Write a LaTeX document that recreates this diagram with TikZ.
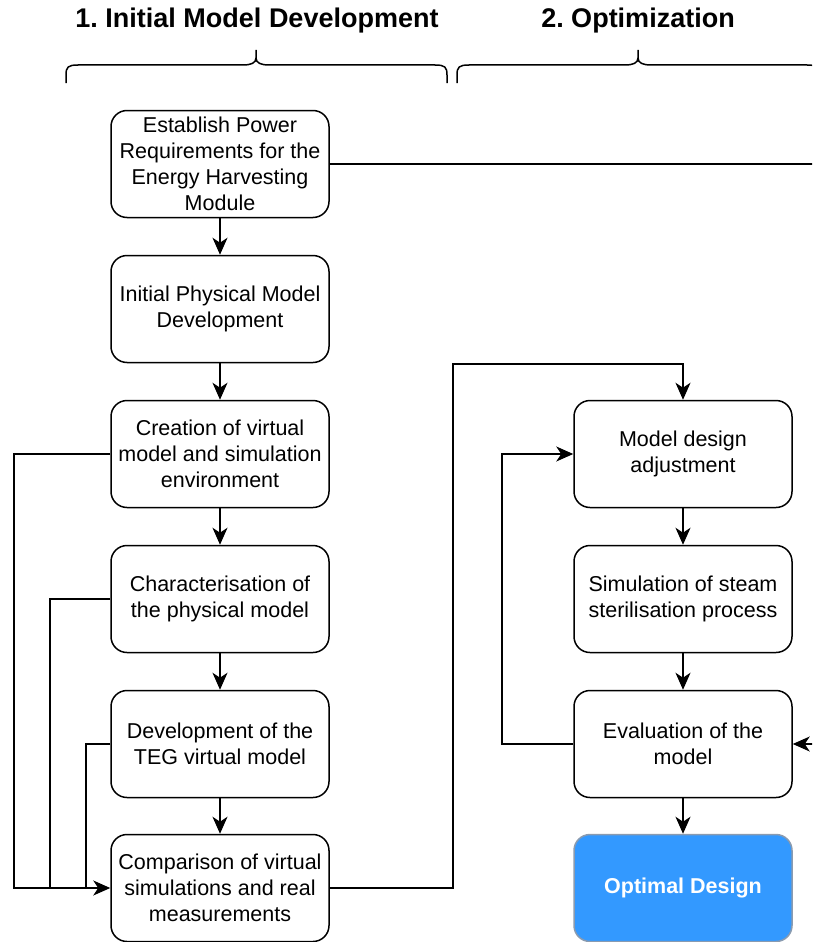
\documentclass[tikz,border=0pt]{standalone}
\usepackage{fontspec}
\setmainfont{Liberation Sans}
\usetikzlibrary{arrows.meta}
\frenchspacing
\definecolor{optblue}{HTML}{3399FF}
\definecolor{optedge}{HTML}{8A9BB0}
\tikzset{
  stepbox/.style={draw=black, line width=1.5pt, rounded corners=16pt,
    minimum width=218pt, minimum height=107pt, align=center,
    inner sep=2pt, font=\fontsize{21.5}{26}\selectfont},
  goalbox/.style={stepbox, draw=optedge, fill=optblue, text=white,
    font=\fontsize{21.5}{26}\selectfont\bfseries},
  flow/.style={line width=1.5pt, -{Stealth[length=17pt,width=15pt,inset=5pt]}},
  link/.style={line width=1.5pt},
  heading/.style={font=\fontsize{27}{32}\selectfont\bfseries},
  bracepath/.style={line width=1.5pt, line cap=butt}
}
% curly brace from x=#1 to x=#3 with its tip at x=#2
\newcommand{\phasebrace}[3]{%
  \draw[bracepath] (#1,83) -- (#1,75) .. controls (#1,67) and (#1+2,65) .. (#1+12,65)
    -- (#2-13,65) .. controls (#2-5,65) and (#2,63) .. (#2,58) -- (#2,50);
  \draw[bracepath] (#2,58) .. controls (#2,63) and (#2+5,65) .. (#2+13,65)
    -- (#3-12,65) .. controls (#3-2,65) and (#3,67) .. (#3,75) -- (#3,83);
}
\begin{document}
\begin{tikzpicture}[x=1pt, y=-1pt]
  \useasboundingbox (0,0) rectangle (812,942);
  \clip (0,0) rectangle (812,942);

  % phase headings and braces
  \node[heading] (h1) at (257,21) {1. Initial Model Development};
  \node[heading] (h2) at (638,21) {2. Optimization};
  \phasebrace{66}{256}{447}
  \phasebrace{457}{638}{819}

  % phase 1 column
  \node[stepbox] (req)  at (220,164) {Establish Power\\Requirements for the\\Energy Harvesting\\Module};
  \node[stepbox] (phys) at (220,309) {Initial Physical Model\\Development};
  \node[stepbox] (virt) at (220,454) {Creation of virtual\\model and simulation\\environment};
  \node[stepbox] (char) at (220,599) {Characterisation of\\the physical model};
  \node[stepbox] (teg)  at (220,744) {Development of the\\TEG virtual model};
  \node[stepbox] (comp) at (220,888) {Comparison of virtual\\simulations and real\\measurements};

  % phase 2 column
  \node[stepbox] (adj)  at (683,454) {Model design\\adjustment};
  \node[stepbox] (sim)  at (683,599) {Simulation of steam\\sterilisation process};
  \node[stepbox] (eval) at (683,744) {Evaluation of the\\model};
  \node[goalbox] (opt)  at (683,888) {Optimal Design};

  % straight steps
  \draw[flow] (req) -- (phys);
  \draw[flow] (phys) -- (virt);
  \draw[flow] (virt) -- (char);
  \draw[flow] (char) -- (teg);
  \draw[flow] (teg) -- (comp);
  \draw[flow] (adj) -- (sim);
  \draw[flow] (sim) -- (eval);
  \draw[flow] (eval) -- (opt);

  % feedback lines into the comparison step
  \draw[link] (virt.west) -| (14,888) -- (50,888);
  \draw[link] (char.west) -| (50,888) -- (86,888);
  \draw[flow] (teg.west) -| (86,888) -- (comp.west);

  % comparison feeds the design adjustment
  \draw[flow] (comp.east) -| (453,364) -| (adj.north);

  % optimisation loop
  \draw[flow] (eval.west) -| (502,454) -- (adj.west);

  % power requirements routed round the right side
  \coordinate (rside) at (830,164);
  \draw[flow] (req.east) -- (rside) -- (830,744) -- (eval.east);
\end{tikzpicture}
\end{document}
